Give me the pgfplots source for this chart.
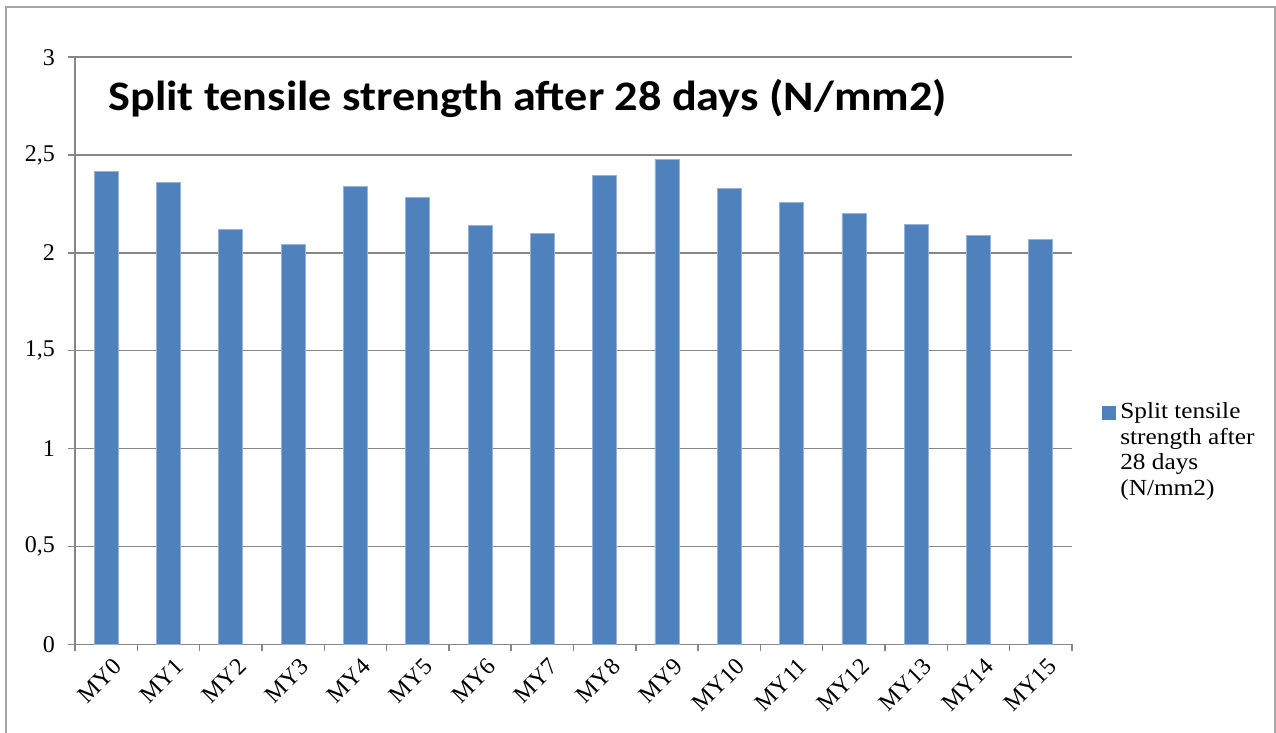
\documentclass[border=0pt]{standalone}
\usepackage{fontspec}
\setmainfont{Liberation Serif}
\newfontfamily\legendfont{Liberation Serif}[FakeStretch=1.1]
\newfontfamily\titlefont{Carlito}[FakeStretch=1.1]
\usepackage{pgfplots}
\pgfplotsset{compat=1.18}
\definecolor{barblue}{HTML}{4F81BD}
\definecolor{gridgray}{HTML}{868686}
\definecolor{framegray}{HTML}{A6A6A6}

\begin{document}
\begin{tikzpicture}
% page = 1276 x 733 px, 1 px = 0.5 pt
\path[use as bounding box] (0pt,0pt) rectangle (638pt,366.5pt);
\draw[framegray, line width=1pt] (2.9pt,-5pt) -- (2.9pt,363pt) -- (637.3pt,363pt) -- (637.3pt,-5pt);
\begin{axis}[
    at={(37.5pt,44.3pt)}, anchor=south west,
    scale only axis,
    width=498.5pt, height=293.6pt,
    ybar, bar width=12pt,
    xmin=-0.5, xmax=15.5,
    ymin=0, ymax=3,
    ytick={0,0.5,...,3},
    xtick={-0.5,0.5,...,15.5},
    xticklabels={},
    extra x ticks={0,...,15},
    extra x tick labels={MY0,MY1,MY2,MY3,MY4,MY5,MY6,MY7,MY8,MY9,MY10,MY11,MY12,MY13,MY14,MY15},
    extra x tick style={major tick length=0pt, grid=none,
        tick label style={rotate=45, anchor=north east, xshift=1pt, yshift=-3pt}},
    axis x line*=bottom, axis y line*=left,
    axis line style={gridgray, line width=0.7pt},
    tick style={gridgray, line width=0.7pt},
    tick align=outside, major tick length=3.5pt,
    ymajorgrids, major grid style={gridgray, line width=0.7pt},
    /pgf/number format/.cd, use comma, assume math mode=true, /pgfplots/.cd,
    tick label style={font=\fontsize{12}{14}\selectfont},
    yticklabel style={xshift=-3pt},
    legend style={at={(1.024,0.33)}, anchor=west, draw=none,
        font=\legendfont\fontsize{11.5}{12.8}\selectfont, cells={align=left}},
    legend cell align=left,
    legend image code/.code={%
        \path[draw=none, fill=none] (0pt,-3.5pt) rectangle (7pt,3.5pt);
        \fill[barblue, draw=none, overlay] (0pt,15.5pt) rectangle (7pt,22.5pt);},
]
\addplot[fill=barblue, draw=barblue!60!white, line width=0.4pt] coordinates {
    (0,2.416) (1,2.362) (2,2.118) (3,2.043) (4,2.341) (5,2.285)
    (6,2.140) (7,2.098) (8,2.398) (9,2.479) (10,2.328) (11,2.260)
    (12,2.203) (13,2.145) (14,2.091) (15,2.071)
};
\addlegendentry{Split tensile\\strength after\\28 days\\(N/mm2)}
\end{axis}
\node[anchor=base west, inner sep=0pt, font=\titlefont\bfseries\fontsize{21}{24}\selectfont]
    at (54pt,311pt) {Split tensile strength after 28 days (N/mm2)};
\end{tikzpicture}
\end{document}
